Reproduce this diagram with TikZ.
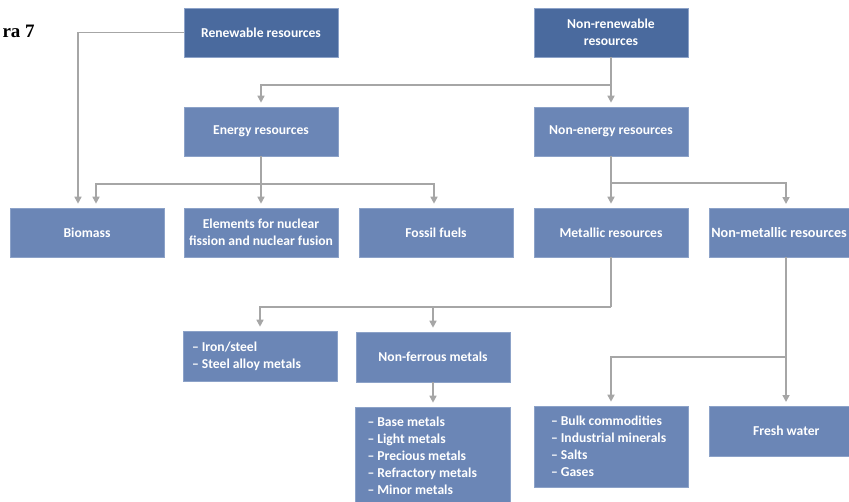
\documentclass[tikz,border=0pt]{standalone}
\usepackage{fontspec}
\setmainfont{Carlito}
\newfontfamily\figfont{Liberation Serif}
\usetikzlibrary{arrows.meta,calc}
\definecolor{darkbox}{HTML}{4A6A9E}
\definecolor{lightbox}{HTML}{6B86B6}
\definecolor{boxedge}{HTML}{8CA2C8}
\definecolor{conncol}{HTML}{A6A6A6}
\tikzset{
  box/.style={draw=boxedge, line width=0.6pt, fill=lightbox, text=white,
    font=\bfseries\fontsize{13.6}{17}\selectfont, minimum width=154pt,
    minimum height=49pt, inner sep=0pt, align=flush center},
  topbox/.style={box, fill=darkbox},
  listbox/.style={box, align=flush left},
  conn/.style={draw=conncol, line width=1.6pt},
  arr/.style={conn, -{Triangle[length=7pt,width=7pt]}, shorten >=4pt},
}
\begin{document}
\begin{tikzpicture}[x=1pt,y=-1pt]
\useasboundingbox (0,0) rectangle (849,501);
\clip (0,0) rectangle (849,501);
\node[anchor=base west, font=\figfont\bfseries\fontsize{19}{21}\selectfont] (fig) at (-1,37.5) {ra 7};
% nodes
\node[topbox] (ren) at (261,32.5) {Renewable resources};
\node[topbox] (nonren) at (611,32.5) {Non-renewable\\resources};
\node[box] (energy) at (261,131.5) {Energy resources};
\node[box] (nonenergy) at (611,131.5) {Non-energy resources};
\node[box] (biomass) at (87,232.5) {Biomass};
\node[box] (elements) at (261,232.5) {Elements for nuclear\\fission and nuclear fusion};
\node[box] (fossil) at (436,232.5) {Fossil fuels};
\node[box] (metallic) at (611,232.5) {Metallic resources};
\node[listbox, anchor=west, text width=151pt, inner xsep=2pt, font=\bfseries\fontsize{14.2}{17}\selectfont] (nonmetallic) at (709,232.5) {Non-metallic resources};
\node[listbox, text width=136pt, inner xsep=9pt, minimum height=50pt] (iron) at (260,356) {– Iron/steel\\– Steel alloy metals};
\node[box, minimum height=50pt] (nonferrous) at (433,357) {Non-ferrous metals};
\node[listbox, text width=131pt, inner xsep=12pt, minimum height=98pt] (basemetals) at (433,456) {– Base metals\\– Light metals\\– Precious metals\\– Refractory metals\\– Minor metals};
\node[listbox, text width=130pt, inner xsep=12pt, minimum height=81pt] (bulk) at (611,446.5) {\hspace*{5pt}– Bulk commodities\\\hspace*{5pt}– Industrial minerals\\\hspace*{5pt}– Salts\\\hspace*{5pt}– Gases};
\node[box, minimum height=50pt, anchor=west] (fresh) at (709,431) {Fresh water};
% junctions
\coordinate (j1) at (611,85);
\coordinate (j2) at (261,184);
\coordinate (j3) at (611,183);
\coordinate (j4) at (611,307);
\coordinate (j5) at (786,357);
\coordinate (nmtop) at (786,208);
\coordinate (nmbot) at (786,257);
\coordinate (fwtop) at (786,406);
% connectors
\draw[arr] (ren.west) -| ([xshift=-9pt]biomass.north);
\draw[conn] (nonren.south) -- (j1);
\draw[arr] (j1) -- (nonenergy.north);
\draw[arr] (j1) -| (energy.north);
\draw[conn] (energy.south) -- (j2);
\draw[arr] (j2) -| ([xshift=9pt]biomass.north);
\draw[arr] (j2) -- (elements.north);
\draw[arr] (j2) -| ([xshift=-2pt]fossil.north);
\draw[conn] (nonenergy.south) -- (j3);
\draw[arr] (j3) -- (metallic.north);
\draw[arr] (j3) -| (nmtop);
\draw[conn] (nmbot) -- (j5);
\draw[arr] (j5) -- (fwtop);
\draw[conn] (metallic.south) -- (j4);
\draw[arr] (j4) -| (iron.north);
\draw[arr] (j4) -| (nonferrous.north);
\draw[arr] (nonferrous.south) -- (basemetals.north);
\draw[arr] (j5) -| (bulk.north);
\end{tikzpicture}
\end{document}
